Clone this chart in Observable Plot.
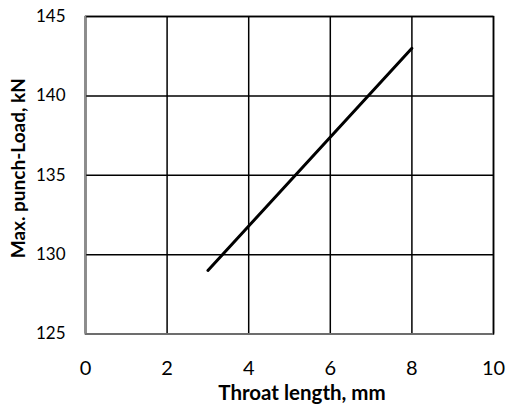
<!DOCTYPE html>
<html>
<head>
<meta charset="utf-8">
<script src="https://cdn.jsdelivr.net/npm/d3@7"></script>
<script src="https://cdn.jsdelivr.net/npm/@observablehq/plot@0.6"></script>
<style>
  html, body { margin: 0; padding: 0; background: #fff; }
  svg { font-family: Lato, "Open Sans", sans-serif; }
</style>
</head>
<body>
<div id="chart"></div>
<script>
const throatLength = [3, 8];
const punchLoad = [129, 143];
const xTicks = [0, 2, 4, 6, 8, 10];
const yTicks = [125, 130, 135, 140, 145];
const xTitle = "Throat length, mm";
const yTitle = "Max. punch-Load, kN";

const data = throatLength.map((x, i) => ({x, y: punchLoad[i]}));

const chart = Plot.plot({
  width: 508,
  height: 414,
  marginLeft: 85,
  marginRight: 15,
  marginTop: 16,
  marginBottom: 80.5,
  style: {fontFamily: "Lato, 'Open Sans', sans-serif", background: "#fff"},
  x: {domain: [0, 10], ticks: xTicks},
  y: {domain: [125, 145], ticks: yTicks},
  marks: [
    Plot.ruleX(xTicks, {stroke: "#000", strokeWidth: 1.5}),
    Plot.ruleY(yTicks, {stroke: "#000", strokeWidth: 1.5}),
    Plot.frame({stroke: "#000", strokeWidth: 1.5}),
    Plot.ruleX([0], {stroke: "#8c8c8c", strokeWidth: 1.5}),
    Plot.ruleY([125], {stroke: "#8c8c8c", strokeWidth: 1.5}),
    Plot.axisX(xTicks, {tickSize: 0, tickPadding: 27, label: null, fill: "#000", fontSize: 20}),
    Plot.axisY(yTicks, {tickSize: 0, tickPadding: 20, label: null, fill: "#000", fontSize: 17}),
    Plot.line(data, {x: "x", y: "y", stroke: "#000", strokeWidth: 3}),
    Plot.text([xTitle], {frameAnchor: "bottom", dy: 66, dx: 12.5, fill: "#000", fontSize: 20.5, fontWeight: "bold"}),
    Plot.text([yTitle], {frameAnchor: "left", textAnchor: "middle", dx: -67, dy: -7, rotate: -90, fill: "#000", fontSize: 19, fontWeight: "bold"})
  ]
});
document.getElementById("chart").appendChild(chart);
</script>
</body>
</html>
